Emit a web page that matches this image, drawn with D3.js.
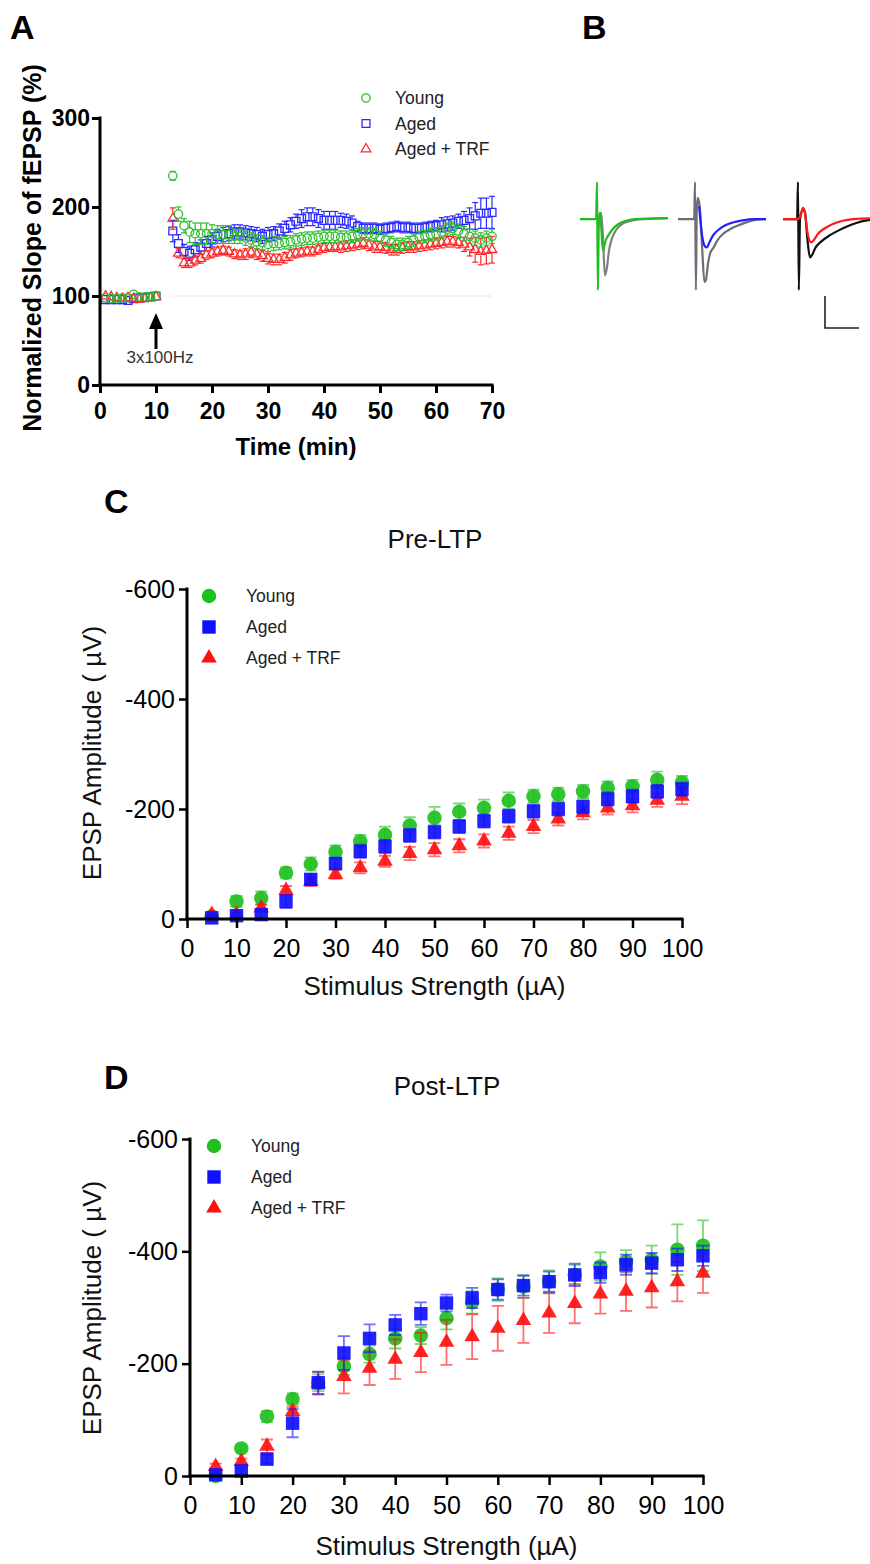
<!DOCTYPE html>
<html><head><meta charset="utf-8">
<script src="https://cdn.jsdelivr.net/npm/d3@7/dist/d3.min.js"></script>
<style>
body{margin:0;background:#fff}
svg{display:block}
text{font-family:"Liberation Sans",Arial,Helvetica,sans-serif}
</style>
</head><body>
<svg id="fig" width="870" height="1564"></svg>
<script>
// ---------------- DATA ----------------
const groups = ["Young", "Aged", "Aged + TRF"];

// Panel A: time (min)
const timeA = [1,2,3,4,5,6,7,8,9,10,
  13,14,15,16,17,18,19,20,21,22,
  23,24,25,26,27,28,29,30,31,32,
  33,34,35,36,37,38,39,40,41,42,
  43,44,45,46,47,48,49,50,51,52,
  53,54,55,56,57,58,59,60,61,62,
  63,64,65,66,67,68,69,70];
const youngA = [98,97,97,98,98,102,99,99,99,100,
  235,192,179,172,170,170,170,170,169,169,
  169,167,167,165,163,161,160,158,159,159,
  160,161,163,164,165,165,166,167,167,167,
  166,166,167,169,170,170,169,166,163,160,
  158,158,160,163,166,167,169,170,172,175,
  176,173,170,167,165,163,165,167];
const youngAErr = [2,2,2,2,2,2,2,2,2,2,
  5,8,8,12,12,12,12,10,10,10,
  10,8,8,8,8,8,8,8,8,7,
  7,7,7,7,7,7,7,7,7,7,
  7,7,7,7,7,7,7,7,7,7,
  7,7,7,7,7,7,7,7,7,7,
  7,8,8,8,8,8,8,8];
const agedA = [96,96,96,96,95,97,98,98,99,100,
  173,159,150,148,152,155,159,163,167,169,
  170,172,172,171,170,169,167,169,170,173,
  176,180,184,187,189,189,187,185,185,185,
  185,184,182,178,176,176,176,175,176,177,
  178,177,177,176,176,177,178,179,180,181,
  182,184,185,187,190,193,193,194];
const agedAErr = [2,2,2,2,2,2,2,2,2,2,
  12,10,8,8,8,8,8,8,8,8,
  8,8,8,8,8,8,8,8,8,8,
  8,8,8,10,10,10,10,10,10,10,
  8,8,8,6,6,6,6,6,6,6,
  6,6,6,6,6,6,6,6,8,8,
  8,8,10,12,15,17,17,18];
const trfA = [100,99,98,97,98,97,96,97,98,99,
  187,148,137,137,140,142,146,148,150,151,
  150,147,146,147,149,147,145,142,141,141,
  143,146,148,149,150,150,152,154,155,155,
  155,156,157,158,159,157,155,155,154,152,
  152,154,155,155,156,157,158,159,160,161,
  161,160,158,155,152,150,151,152];
const trfAErr = [2,2,2,2,2,2,2,2,2,2,
  12,5,5,5,5,5,5,5,5,5,
  5,5,5,6,6,6,6,6,6,6,
  6,6,5,5,5,5,5,5,5,5,
  6,6,6,6,6,6,6,6,6,6,
  6,6,6,6,6,6,6,6,6,6,
  6,6,8,10,14,15,15,15];
const xTicksA = [0,10,20,30,40,50,60,70];
const yTicksA = [0,100,200,300];

// Panel B: example traces (ms, mV)
const trace1Gray  = [[6.4,-0.1],[7.2,0.19],[7.8,-0.5],[8.5,-1.75],[9.2,-1.5],[9.9,-0.97],[10.9,-0.6],[12.3,-0.34],[14.3,-0.16],[17,-0.06],[22,0],[30,0.03]];
const trace1Color = [[0,0],[5.5,0],[5.8,1.15],[6.1,-2.2],[6.4,-0.2],[6.8,0.2],[7.2,-0.2],[7.8,-0.97],[8.8,-0.65],[9.5,-0.53],[10.9,-0.34],[13,-0.16],[15.4,-0.06],[18.8,0],[30,0.03]];
const trace2Gray  = [[0,0],[5.5,0],[5.8,1.15],[6.1,-2.2],[6.4,0.3],[6.8,0.66],[7.5,0.3],[8.3,-1.0],[9.0,-1.95],[9.5,-1.9],[10.2,-1.4],[11,-1.05],[12,-0.9],[13.5,-0.65],[15.5,-0.45],[18,-0.3],[21,-0.18],[24,-0.08],[27,-0.02],[30,0]];
const trace2Color = [[7.2,0.4],[8.2,-0.5],[9.2,-0.85],[9.8,-0.88],[10.8,-0.7],[12,-0.5],[14,-0.32],[16,-0.2],[19,-0.1],[22,-0.04],[26,0],[30,0]];
const trace3Gray  = [[0,0],[4.8,0],[5.1,1.15],[5.4,-2.2],[5.8,0],[6.8,0.3],[7.5,0.2],[8.3,-0.6],[9.2,-1.19],[10,-1.1],[11,-0.9],[13,-0.7],[16,-0.5],[19,-0.35],[22,-0.22],[25,-0.12],[28,-0.05],[30,-0.02]];
const trace3Color = [[0,0],[4.8,0],[6.0,0.1],[6.8,0.35],[7.5,0.2],[8.3,-0.4],[9.6,-0.72],[10.5,-0.65],[12,-0.45],[14,-0.3],[17,-0.15],[20,-0.06],[24,0],[30,0.02]];

// Panels C & D: stimulus strength (uA), EPSP amplitude magnitude (uV)
const stim = [5,10,15,20,25,30,35,40,45,50,55,60,65,70,75,80,85,90,95,100];
const youngPre  = [5,32,38,84,100,122,141,153,170,184,195,202,215,223,227,232,238,241,253,248];
const youngPreErr = [3,10,12,10,12,12,12,15,15,20,15,15,15,12,12,12,12,12,15,12];
const agedPre   = [2,6,8,32,72,101,123,132,152,158,168,178,187,196,200,204,218,223,232,236];
const agedPreErr = [3,5,6,12,10,10,12,12,12,12,12,12,12,12,12,12,12,12,12,12];
const trfPre    = [8,8,20,52,68,81,93,105,119,126,133,142,156,168,182,193,202,206,216,223];
const trfPreErr = [4,4,6,8,8,8,10,10,12,12,12,12,12,12,12,12,12,12,12,14];

const youngPost = [0,49,106,137,166,195,217,245,250,281,309,332,337,346,358,373,382,385,403,410];
const youngPostErr = [8,5,10,10,15,15,15,18,15,20,20,20,20,20,18,25,20,25,45,45];
const agedPost  = [2,9,30,94,166,219,245,269,289,308,317,332,339,346,358,362,376,379,385,392];
const agedPostErr = [3,6,8,25,20,30,25,18,20,15,18,18,18,18,20,18,18,18,20,18];
const trfPost   = [17,26,53,115,165,177,192,208,220,238,248,263,277,290,307,324,329,335,346,361];
const trfPostErr = [5,5,12,8,20,30,30,35,35,40,40,40,40,35,35,35,35,35,35,35];
const xTicksCD = [0,10,20,30,40,50,60,70,80,90,100];
const yTicksCD = [0,200,400,600];

// ---------------- DRAWING ----------------
const FONT = '"Liberation Sans",Arial,Helvetica,sans-serif';
const svg = d3.select("#fig");
const colOpen = ["#2fbf2f", "#2b2bff", "#ff2a2a"];
const colFill = ["#1fbf1f", "#1010ff", "#ff1010"];

function styleAxis(g, size, weight, tw) {
  g.attr("font-family", FONT);
  g.select(".domain").attr("stroke", "#000").attr("stroke-width", 3);
  g.selectAll(".tick line").attr("stroke", "#000").attr("stroke-width", tw);
  g.selectAll(".tick text").attr("font-size", size).attr("font-weight", weight).attr("fill", "#000");
}

function panelLabel(t, x, y) {
  svg.append("text").attr("x", x).attr("y", y).attr("font-size", 34).attr("font-weight", "bold").text(t);
}
panelLabel("A", 10, 39);
panelLabel("B", 582, 39);
panelLabel("C", 104, 513);
panelLabel("D", 104, 1089);

// ===== Panel A =====
(function () {
  const x = d3.scaleLinear().domain([0, 70]).range([100, 492]);
  const y = d3.scaleLinear().domain([0, 300]).range([385, 118]);
  const g = svg.append("g");
  g.append("line").attr("x1", x(13)).attr("x2", x(70)).attr("y1", y(100)).attr("y2", y(100))
    .attr("stroke", "#bdbdbd").attr("stroke-width", 1).attr("stroke-dasharray", "1.5,2.5");

  const series = [
    {v: agedA, e: agedAErr, c: colOpen[1], s: d3.symbolSquare, size: 62, r: 4},
    {v: trfA, e: trfAErr, c: colOpen[2], s: d3.symbolTriangle, size: 40, r: 4},
    {v: youngA, e: youngAErr, c: colOpen[0], s: d3.symbolCircle, size: 55, r: 4.2}
  ];
  series.forEach(sr => {
    const sg = g.append("g");
    timeA.forEach((t, i) => {
      const cx = x(t), cy = y(sr.v[i]);
      const top = y(sr.v[i] + sr.e[i]), bot = y(sr.v[i] - sr.e[i]);
      if (top < cy - sr.r) {
        sg.append("line").attr("x1", cx).attr("x2", cx).attr("y1", top).attr("y2", cy - sr.r).attr("stroke", sr.c).attr("stroke-width", 1.2);
        sg.append("line").attr("x1", cx - 3).attr("x2", cx + 3).attr("y1", top).attr("y2", top).attr("stroke", sr.c).attr("stroke-width", 1.2);
      }
      if (bot > cy + sr.r) {
        sg.append("line").attr("x1", cx).attr("x2", cx).attr("y1", cy + sr.r).attr("y2", bot).attr("stroke", sr.c).attr("stroke-width", 1.2);
        sg.append("line").attr("x1", cx - 3).attr("x2", cx + 3).attr("y1", bot).attr("y2", bot).attr("stroke", sr.c).attr("stroke-width", 1.2);
      }
      sg.append("path").attr("d", d3.symbol().type(sr.s).size(sr.size)())
        .attr("transform", `translate(${cx},${cy})`).attr("fill", "none").attr("stroke", sr.c).attr("stroke-width", 1.3);
    });
  });

  const ax = g.append("g").attr("transform", "translate(0,385)")
    .call(d3.axisBottom(x).tickValues(xTicksA).tickSize(8).tickSizeOuter(0).tickPadding(10));
  styleAxis(ax, 23, "bold", 3);
  const ay = g.append("g").attr("transform", "translate(100,0)")
    .call(d3.axisLeft(y).tickValues(yTicksA).tickSize(8).tickSizeOuter(0).tickPadding(2));
  styleAxis(ay, 23, "bold", 3);
  ay.select(".domain").attr("d", `M0,${y(300) - 1.5}V${y(0) + 1.5}`);
  ax.select(".domain").attr("d", `M${x(0) - 1.5},0H${x(70) + 1.5}`);

  g.append("text").attr("x", x(35)).attr("y", 455).attr("text-anchor", "middle")
    .attr("font-size", 24).attr("font-weight", "bold").text("Time (min)");
  g.append("text").attr("transform", "translate(41,248) rotate(-90)").attr("text-anchor", "middle")
    .attr("font-size", 25).attr("font-weight", "bold").text("Normalized Slope of fEPSP (%)");

  // stimulation arrow
  g.append("line").attr("x1", x(10)).attr("x2", x(10)).attr("y1", 349).attr("y2", 325)
    .attr("stroke", "#000").attr("stroke-width", 3);
  g.append("path").attr("d", `M${x(10)},313L${x(10) - 7},329L${x(10) + 7},329Z`).attr("fill", "#000");
  g.append("text").attr("x", x(10) + 4).attr("y", 363).attr("text-anchor", "middle")
    .attr("font-size", 17).attr("fill", "#333").text("3x100Hz");

  // legend
  const legSym = [d3.symbolCircle, d3.symbolSquare, d3.symbolTriangle];
  const legSz = [55, 62, 40];
  groups.forEach((name, i) => {
    const ly = 98 + i * 25.5;
    g.append("path").attr("d", d3.symbol().type(legSym[i]).size(legSz[i])())
      .attr("transform", `translate(366,${ly})`).attr("fill", "none").attr("stroke", colOpen[i]).attr("stroke-width", 1.3);
    g.append("text").attr("x", 395).attr("y", ly + 6).attr("font-size", 17.5).attr("fill", "#222").text(name);
  });
})();

// ===== Panel B =====
(function () {
  const g = svg.append("g");
  const yT = d3.scaleLinear().domain([-2.2, 1.15]).range([290, 182]);
  const traces = [
    {x0: 580, gray: trace1Gray, color: trace1Color, gc: "#808080", cc: "#22bb22"},
    {x0: 678, gray: trace2Gray, color: trace2Color, gc: "#6e6e78", cc: "#1f1fff"},
    {x0: 783, gray: trace3Gray, color: trace3Color, gc: "#141010", cc: "#ff1a1a"}
  ];
  traces.forEach(tr => {
    const xT = d3.scaleLinear().domain([0, 30]).range([tr.x0, tr.x0 + 88]);
    const ln = d3.line().x(d => xT(d[0])).y(d => yT(d[1])).curve(d3.curveMonotoneX);
    g.append("path").attr("d", ln(tr.gray)).attr("fill", "none").attr("stroke", tr.gc).attr("stroke-width", 2.2);
    g.append("path").attr("d", ln(tr.color)).attr("fill", "none").attr("stroke", tr.cc).attr("stroke-width", 2.2);
  });
  // scale bar
  g.append("path").attr("d", "M825,296V328H859").attr("fill", "none").attr("stroke", "#222").attr("stroke-width", 1.6);
})();

// ===== Panels C & D =====
function drawIO(cfg) {
  const x = d3.scaleLinear().domain([0, 100]).range([cfg.x0, cfg.x1]);
  const y = d3.scaleLinear().domain([0, 600]).range([cfg.y0, cfg.y1]);
  const g = svg.append("g");
  const series = [
    {v: cfg.young, e: cfg.youngErr, c: colFill[0], s: d3.symbolCircle, size: 165},
    {v: cfg.trf, e: cfg.trfErr, c: colFill[2], s: d3.symbolTriangle, size: 105},
    {v: cfg.aged, e: cfg.agedErr, c: colFill[1], s: d3.symbolSquare, size: 180}
  ];
  series.forEach(sr => {
    const sg = g.append("g");
    stim.forEach((t, i) => {
      const cx = x(t), top = y(sr.v[i] + sr.e[i]), bot = y(Math.max(0, sr.v[i] - sr.e[i]));
      sg.append("path").attr("d", `M${cx},${top}V${bot}M${cx - 6},${top}H${cx + 6}M${cx - 6},${bot}H${cx + 6}`)
        .attr("stroke", sr.c).attr("stroke-opacity", 0.6).attr("stroke-width", 1.8).attr("fill", "none");
    });
    stim.forEach((t, i) => {
      sg.append("path").attr("d", d3.symbol().type(sr.s).size(sr.size)())
        .attr("transform", `translate(${x(t)},${y(sr.v[i])})`).attr("fill", sr.c).attr("fill-opacity", 0.92);
    });
  });

  const ax = g.append("g").attr("transform", `translate(0,${cfg.y0})`)
    .call(d3.axisBottom(x).tickValues(xTicksCD).tickSize(9).tickSizeOuter(0).tickPadding(11));
  styleAxis(ax, 25, "normal", 2.5);
  const ay = g.append("g").attr("transform", `translate(${cfg.x0},0)`)
    .call(d3.axisLeft(y).tickValues(yTicksCD).tickSize(8).tickSizeOuter(0).tickPadding(4)
      .tickFormat(d => d === 0 ? "0" : "-" + d));
  styleAxis(ay, 25, "normal", 2.5);
  ay.select(".domain").attr("d", `M0,${cfg.y1 - 1.5}V${cfg.y0 + 1.5}`);
  ax.select(".domain").attr("d", `M${cfg.x0 - 1.5},0H${cfg.x1 + 1.5}`);

  g.append("text").attr("x", (cfg.x0 + cfg.x1) / 2).attr("y", cfg.y0 + cfg.xtOff).attr("text-anchor", "middle")
    .attr("font-size", 26).attr("fill", "#111").text("Stimulus Strength (\u00B5A)");
  g.append("text").attr("transform", `translate(101,${cfg.ytc}) rotate(-90)`).attr("text-anchor", "middle")
    .attr("font-size", 26).attr("fill", "#111").text("EPSP Amplitude ( \u00B5V)");
  g.append("text").attr("x", cfg.tx).attr("y", cfg.ty).attr("text-anchor", "middle")
    .attr("font-size", 26).attr("fill", "#111").text(cfg.title);

  const legSym = [d3.symbolCircle, d3.symbolSquare, d3.symbolTriangle];
  const legSz = [165, 180, 105];
  groups.forEach((name, i) => {
    const ly = cfg.ly + i * 31;
    g.append("path").attr("d", d3.symbol().type(legSym[i]).size(legSz[i])())
      .attr("transform", `translate(${cfg.lx},${ly})`).attr("fill", colFill[i]);
    g.append("text").attr("x", cfg.lx + 37).attr("y", ly + 6).attr("font-size", 17.5).attr("fill", "#222").text(name);
  });
}

drawIO({x0: 187, x1: 682, y0: 919, y1: 589, young: youngPre, youngErr: youngPreErr,
  aged: agedPre, agedErr: agedPreErr, trf: trfPre, trfErr: trfPreErr,
  title: "Pre-LTP", tx: 435, ty: 548, ytc: 753, lx: 209, ly: 596, xtOff: 76});
drawIO({x0: 190, x1: 703, y0: 1476, y1: 1139, young: youngPost, youngErr: youngPostErr,
  aged: agedPost, agedErr: agedPostErr, trf: trfPost, trfErr: trfPostErr,
  title: "Post-LTP", tx: 447, ty: 1095, ytc: 1308, lx: 214, ly: 1146, xtOff: 79});
</script>
</body></html>
